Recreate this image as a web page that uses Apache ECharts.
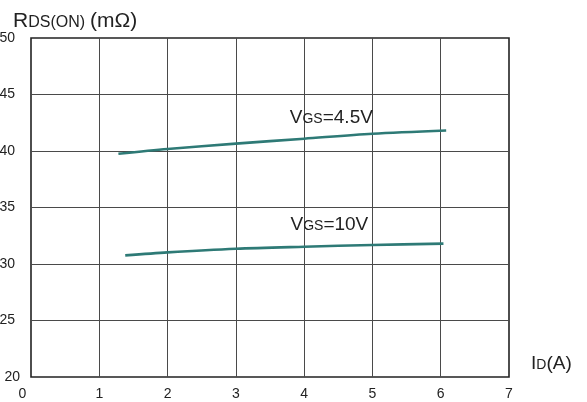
<!DOCTYPE html>
<html>
<head>
<meta charset="utf-8">
<script src="https://cdn.jsdelivr.net/npm/echarts@6/dist/echarts.min.js"></script>
<style>
  html, body { margin: 0; padding: 0; background: #fff; }
  #chart { width: 587px; height: 402px; }
</style>
</head>
<body>
<div id="chart"></div>
<script>
// Drain current I_D (A) vs on-resistance R_DS(on) (mΩ) at two gate voltages
const xTicks = [0, 1, 2, 3, 4, 5, 6, 7];
const yTicks = [20, 25, 30, 35, 40, 45, 50];

const idVgs45 = [1.28, 2, 3, 4, 5, 6.08];
const rdsVgs45 = [39.76, 40.18, 40.65, 41.09, 41.53, 41.82];

const idVgs10 = [1.38, 2, 3, 4, 5, 6.04];
const rdsVgs10 = [30.76, 31.03, 31.35, 31.53, 31.68, 31.8];

// Curve label anchors (data coordinates)
const labelVgs45 = { x: 3.79, y: 42.95 };
const labelVgs10 = { x: 3.80, y: 33.48 };

const FONT = '"Liberation Sans", Arial, sans-serif';
const LINE_COLOR = '#2e7a76';
const TEXT_COLOR = '#222';

const pairs = (xs, ys) => xs.map((x, i) => [x, ys[i]]);

const curveLabelRich = {
  big: { fontSize: 19, fontFamily: FONT, color: TEXT_COLOR },
  sub: { fontSize: 14, fontFamily: FONT, color: TEXT_COLOR, verticalAlign: 'bottom', padding: [0, 0, 1, 0] }
};

function curveSeries(name, xs, ys, label, text) {
  return {
    name: name,
    type: 'line',
    data: pairs(xs, ys),
    smooth: 0.3,
    symbol: 'none',
    lineStyle: { color: LINE_COLOR, width: 2.6 },
    z: 3,
    markPoint: {
      symbol: 'circle',
      symbolSize: 0,
      data: [{ coord: [label.x, label.y] }],
      label: {
        show: true,
        position: 'inside',
        align: 'left',
        verticalAlign: 'middle',
        formatter: text,
        rich: curveLabelRich
      }
    }
  };
}

const chart = echarts.init(document.getElementById('chart'), null, { renderer: 'canvas' });

chart.setOption({
  animation: false,
  backgroundColor: '#fff',
  title: {
    text: '{big|R}{sub|DS(ON)}{gap| }{big|(mΩ)}',
    left: 8,
    top: 6,
    textStyle: {
      fontWeight: 'normal',
      rich: {
        big: { fontSize: 21, fontWeight: 'normal', fontFamily: FONT, color: TEXT_COLOR },
        sub: { fontSize: 16, fontWeight: 'normal', fontFamily: FONT, color: TEXT_COLOR, verticalAlign: 'bottom', padding: [0, 0, 1, 0] },
        gap: { fontSize: 18, fontFamily: FONT }
      }
    }
  },
  grid: {
    left: 31,
    right: 78,
    top: 38,
    bottom: 25,
    containLabel: false,
    outerBoundsMode: 'none',
    show: true,
    borderColor: '#222',
    borderWidth: 1.6,
    backgroundColor: 'transparent'
  },
  xAxis: {
    type: 'value',
    min: xTicks[0],
    max: xTicks[xTicks.length - 1],
    interval: 1,
    name: '{big|I}{sub|D}{big|(A)}',
    nameLocation: 'end',
    nameGap: 22,
    nameTextStyle: {
      verticalAlign: 'middle',
      padding: [0, 0, 26, 0],
      rich: {
        big: { fontSize: 19, fontFamily: FONT, color: TEXT_COLOR },
        sub: { fontSize: 14, fontFamily: FONT, color: TEXT_COLOR, verticalAlign: 'bottom', padding: [0, 0, 1, 0] }
      }
    },
    axisLine: { show: false },
    axisTick: { show: false },
    axisLabel: {
      margin: 10,
      fontSize: 14,
      fontFamily: FONT,
      color: TEXT_COLOR,
      formatter: v => (v === xTicks[0] ? '{first|' + v + '}' : String(v)),
      rich: {
        first: { fontSize: 14, fontFamily: FONT, color: TEXT_COLOR, padding: [0, 17, 0, 0] }
      }
    },
    splitLine: {
      show: true,
      showMinLine: false,
      showMaxLine: false,
      lineStyle: { color: '#4a4a4a', width: 1 }
    }
  },
  yAxis: {
    type: 'value',
    min: yTicks[0],
    max: yTicks[yTicks.length - 1],
    interval: 5,
    axisLine: { show: false },
    axisTick: { show: false },
    axisLabel: {
      margin: 11,
      fontSize: 14,
      fontFamily: FONT,
      color: TEXT_COLOR,
      // the bottom label sits a little closer to the corner than the rest
      formatter: v => (v === yTicks[0] ? '{low|' + v + '}' : '{n|' + v + '}'),
      rich: {
        low: { fontSize: 14, fontFamily: FONT, color: TEXT_COLOR },
        n: { fontSize: 14, fontFamily: FONT, color: TEXT_COLOR, padding: [0, 5, 0, 0] }
      }
    },
    splitLine: {
      show: true,
      showMinLine: false,
      showMaxLine: false,
      lineStyle: { color: '#4a4a4a', width: 1 }
    }
  },
  series: [
    curveSeries('VGS=4.5V', idVgs45, rdsVgs45, labelVgs45, '{big|V}{sub|GS}{big|=4.5V}'),
    curveSeries('VGS=10V', idVgs10, rdsVgs10, labelVgs10, '{big|V}{sub|GS}{big|=10V}')
  ]
});
</script>
</body>
</html>
